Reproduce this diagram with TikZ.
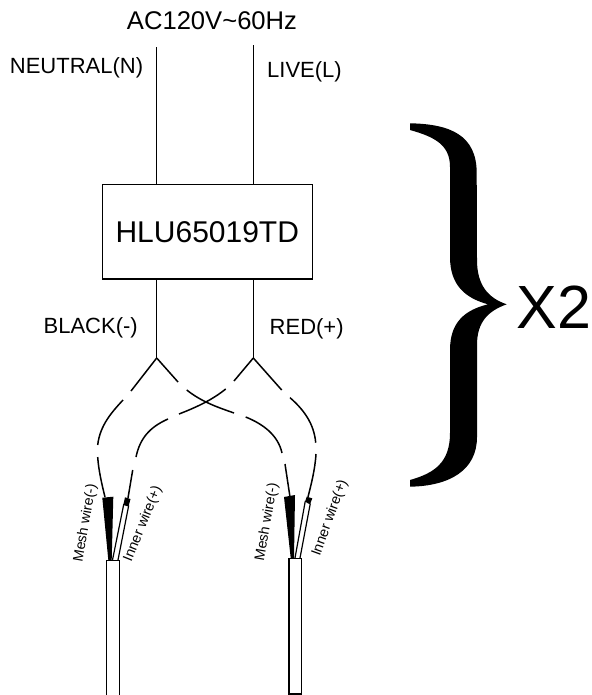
\documentclass[tikz,border=0pt]{standalone}
\usepackage{fontspec}
\setmainfont{Liberation Sans}
\tikzset{
  wire/.style={draw=black,line width=1.5pt},
  thin wire/.style={draw=black,line width=1.2pt},
  label/.style={inner sep=0pt,font=\fontsize{22}{24}\selectfont},
  small label/.style={inner sep=0pt,font=\fontsize{14.2}{16}\selectfont},
  device/.style={draw=black,line width=1.5pt,minimum width=210pt,minimum height=94.7pt,inner sep=0pt,font=\fontsize{30}{34}\selectfont},
}
\begin{document}
\begin{tikzpicture}[x=1pt,y=-1pt]
\useasboundingbox (0,0) rectangle (591,695);
\node[device] (box) at (207.3,231.7) {HLU65019TD};
\coordinate (nt) at (156.7,47.5); \coordinate (lt) at (253.3,45.5);
\coordinate (nb) at (156.7,184.3); \coordinate (lb) at (253.3,184.3);
\coordinate (bk) at (156.7,279); \coordinate (rd) at (253.3,279);
\coordinate (by) at (156.7,358); \coordinate (ry) at (253.3,358);
\draw[wire] (nt)--(nb); \draw[wire] (lt)--(lb);
\draw[wire] (bk)--(by); \draw[wire] (rd)--(ry);
\node[label,font=\fontsize{25.6}{28}\selectfont] (title) at (212,21) {AC120V\textasciitilde60Hz};
\node[label] (neutral) at (76.5,68) {NEUTRAL(N)};
\node[label] (live) at (304.5,71.5) {LIVE(L)};
\node[label] (black) at (90.7,328) {BLACK(-)};
\node[label] (red) at (306.7,329) {RED(+)};
% branches from the black lead
\draw[wire] (by)--(178,382);
\draw[wire] (186.7,390) .. controls (202,402) and (217,407) .. (234,413);
\draw[wire] (245.7,417) .. controls (263,424) and (278,435) .. (282,453);
\draw[wire] (285,464) -- (290,497);
\draw[wire] (by)--(131,391);
\draw[wire] (123,400) .. controls (112,412) and (100,425) .. (97.7,445);
\draw[wire] (97.7,457) .. controls (98.5,470) and (102,485) .. (105,497);
% branches from the red lead
\draw[wire] (ry)--(234,381);
\draw[wire] (225.7,389) .. controls (212,400) and (197,407) .. (179,414);
\draw[wire] (168,419) .. controls (150,427) and (140,438) .. (136,457);
\draw[wire] (132.7,470) -- (128,498);
\draw[wire] (ry)--(281.7,390);
\draw[wire] (290,397.7) .. controls (303,409) and (314,423) .. (315.7,442.7);
\draw[wire] (316,454) .. controls (315,470) and (311,485) .. (308,497);
% left cable
\fill (102.3,497.7)--(113.3,496.7)--(111.7,560)--(108.3,560)--cycle;
\fill (125,497.3)--(130.5,499)--(128.5,506.5)--(123.3,505)--cycle;
\draw[thin wire] (123.8,504)--(112.5,560) (128.7,505.5)--(118,560);
\draw[wire] (106.7,695)--(106.7,560.7)--(119.3,560.7)--(119.3,695);
% right cable
\fill (284,497)--(295,495)--(294,558)--(290.7,558)--cycle;
\fill (306.7,496.7)--(312.3,498.3)--(310,504.3)--(305,501.7)--cycle;
\draw[thin wire] (305.3,501)--(295,558) (310.3,503.5)--(300,558);
\draw[wire] (289,558.7) rectangle (301.3,694);
\node[small label,rotate=80] (m1) at (85.5,523) {Mesh wire(-)};
\node[small label,rotate=68] (i1) at (143,524) {Inner wire(+)};
\node[small label,rotate=80] (m2) at (267,522) {Mesh wire(-)};
\node[small label,rotate=70] (i2) at (330,518) {Inner wire(+)};
% brace
\fill (410,123.3) .. controls (450,124) and (476.7,135) .. (476.7,173)
 -- (477,260) .. controls (477,285) and (488,298) .. (506.7,304.3)
 .. controls (488,311) and (477,322) .. (477,345)
 -- (477,437) .. controls (477,470) and (450,486) .. (410,486.7)
 -- (410,480) .. controls (435,473) and (450,462) .. (450,433)
 -- (450,350) .. controls (450,322) and (465,310) .. (488,304.3)
 .. controls (465,298) and (450,285) .. (450,257)
 -- (450,167) .. controls (450,145) and (435,137) .. (410,130) -- cycle;
\node[inner sep=0pt,anchor=base west,font=\fontsize{61}{70}\selectfont] (x2) at (516.5,328.5) {X2};
\end{tikzpicture}
\end{document}
